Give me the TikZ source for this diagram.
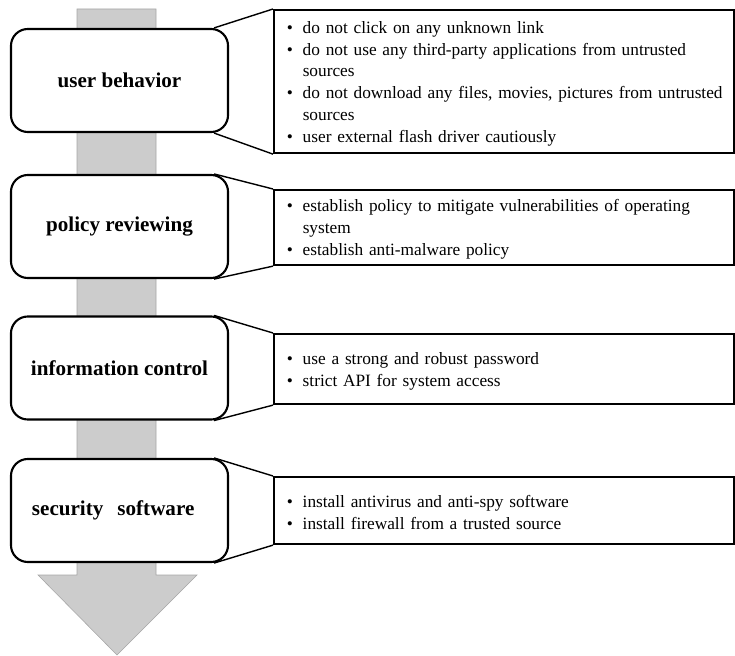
\documentclass[tikz,border=0pt]{standalone}
\usepackage{fontspec}
\setmainfont{Liberation Serif}
\usetikzlibrary{calc}

% bullet lines with a hanging indent, kept on one line each
\newcommand{\bitem}[1]{\mbox{\rule{0pt}{11.7pt}\makebox[11.3pt][l]{\textbullet}#1}}
\newcommand{\bcont}[1]{\mbox{\rule{0pt}{11.7pt}\hspace*{11.3pt}#1}}

\begin{document}
\begin{tikzpicture}[x=0.025cm, y=-0.025cm,
    stage/.style={draw, line width=1.5pt, rounded corners=12pt, fill=white,
      minimum width=5.425cm, minimum height=2.575cm,
      font=\fontsize{15}{18}\selectfont\bfseries},
    detail/.style={draw, line width=1.5pt, fill=white, anchor=north west,
      minimum width=11.5cm, text width=309pt, inner xsep=8.5pt, align=left,
      font=\fontsize{12.3}{15.6}\selectfont},
    link/.style={line width=1pt},
    arrowbody/.style={fill=black!20, draw=black!35, line width=0.4pt}]
  \useasboundingbox (0,0) rectangle (735,656);

  % big downward arrow behind the stages
  \draw[arrowbody] (77,9) -- (156,9) -- (156,575) -- (197,575) -- (117,655)
    -- (38,575) -- (77,575) -- cycle;

  % stages
  \node[stage] (ub) at (119.5,80.5) {user behavior};
  \node[stage] (pr) at (119.5,226.5) {policy reviewing};
  \node[stage] (ic) at (119.5,368) {information control};
  \node[stage] (ss) at (119.5,510.5) {security\hspace{10pt}software\kern9pt};

  % measures of each stage
  \node[detail, minimum height=3.575cm] (d1) at (273,9) {%
    \bitem{do not click on any unknown link}\\
    \bitem{do not use any third-party applications from untrusted}\\
    \bcont{sources}\\
    \bitem{do not download any files, movies, pictures from untrusted}\\
    \bcont{sources}\\
    \bitem{user external flash driver cautiously}};
  \node[detail, minimum height=1.875cm] (d2) at (273,189) {%
    \bitem{establish policy to mitigate vulnerabilities of operating}\\
    \bcont{system}\\
    \bitem{establish anti-malware policy}};
  \node[detail, minimum height=1.75cm] (d3) at (273,333) {%
    \bitem{use a strong and robust password}\\
    \bitem{strict API for system access}};
  \node[detail, minimum height=1.675cm] (d4) at (273,476) {%
    \bitem{install antivirus and anti-spy software}\\
    \bitem{install firewall from a trusted source}};

  \begin{scope}[link]
    \draw ($(ub.north east)+(-15,0)$) -- (d1.north west);
    \draw ($(ub.south east)+(-15,0)$) -- (d1.south west);
    \draw ($(pr.north east)+(-15,0)$) -- (d2.north west);
    \draw ($(pr.south east)+(-15,0)$) -- (d2.south west);
    \draw ($(ic.north east)+(-15,0)$) -- (d3.north west);
    \draw ($(ic.south east)+(-15,0)$) -- (d3.south west);
    \draw ($(ss.north east)+(-15,0)$) -- (d4.north west);
    \draw ($(ss.south east)+(-15,0)$) -- (d4.south west);
  \end{scope}
\end{tikzpicture}
\end{document}
